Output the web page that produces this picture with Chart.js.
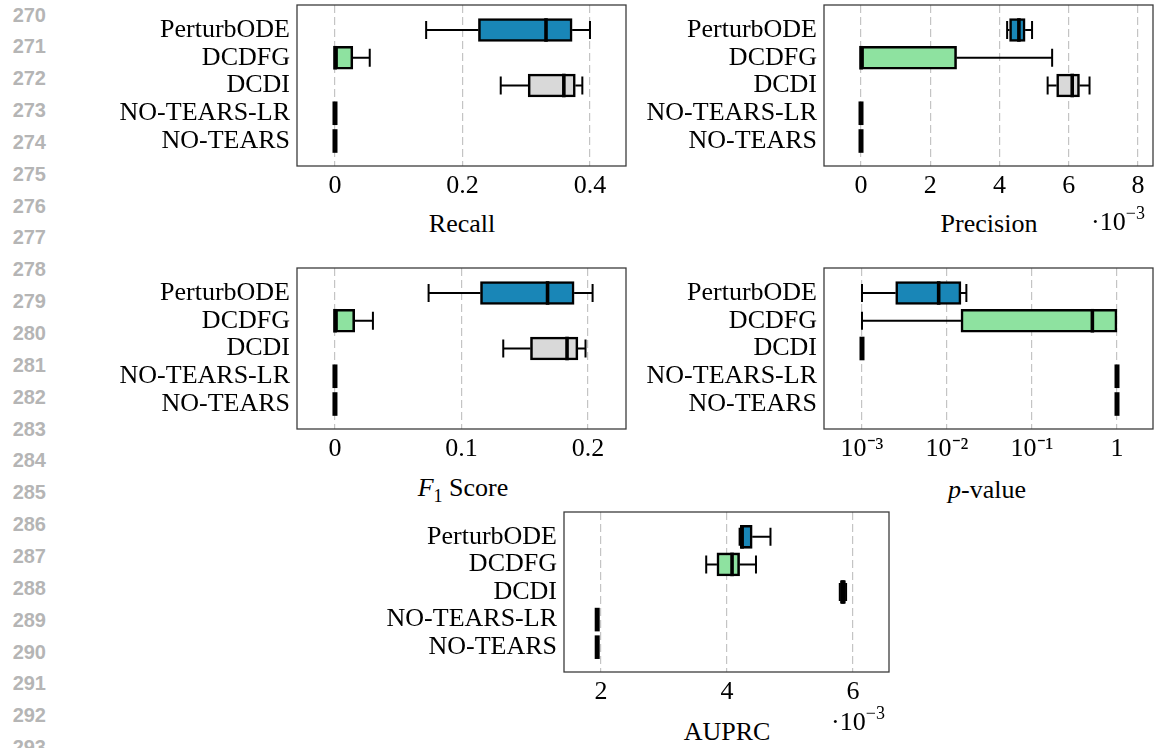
<!DOCTYPE html>
<html><head><meta charset="utf-8">
<script src="https://cdn.jsdelivr.net/npm/chart.js@4.4.1/dist/chart.umd.min.js"></script>
<style>
html,body{margin:0;padding:0;background:#fff}
body{width:1155px;height:748px;overflow:hidden;position:relative;font-family:'Liberation Serif','Times New Roman',serif}
canvas.c{position:absolute}
.t{position:absolute;font:26px 'Liberation Serif','Times New Roman',serif;color:#000;white-space:nowrap;transform:translate(-50%,-50%);line-height:1}
.ln{position:absolute;left:0;width:46px;text-align:right;font:bold 20px 'Liberation Sans',Arial,sans-serif;color:#b5b5b5;transform:translateY(-50%);line-height:1}
sup{font-size:18px;vertical-align:0;position:relative;top:-11px}
</style></head><body>
<canvas class="c" id="cRecall"></canvas>
<canvas class="c" id="cPrecision"></canvas>
<canvas class="c" id="cF1"></canvas>
<canvas class="c" id="cP"></canvas>
<canvas class="c" id="cAUPRC"></canvas>
<div id="labels"></div>
<script>
// ---------- DATA ----------
const methods = ['PerturbODE', 'DCDFG', 'DCDI', 'NO-TEARS-LR', 'NO-TEARS'];
// five-number summaries per method: [min, Q1, median, Q3, max]
const recallStats = [
  [0.143, 0.225, 0.331, 0.372, 0.400],
  [0, 0, 0, 0.028, 0.0545],
  [0.260, 0.303, 0.359, 0.377, 0.388],
  [0, 0, 0, 0, 0],
  [0, 0, 0, 0, 0]
];
// precision in units of 1e-3
const precisionStats = [
  [4.22, 4.29, 4.56, 4.74, 4.94],
  [0, 0, 0, 2.76, 5.52],
  [5.39, 5.65, 6.10, 6.31, 6.60],
  [0, 0, 0, 0, 0],
  [0, 0, 0, 0, 0]
];
const f1Stats = [
  [0.074, 0.115, 0.168, 0.189, 0.2036],
  [0, 0, 0, 0.0156, 0.030],
  [0.133, 0.1545, 0.1834, 0.192, 0.198],
  [0, 0, 0, 0, 0],
  [0, 0, 0, 0, 0]
];
const pvalueStats = [
  [0.001, 0.00249, 0.00798, 0.0146, 0.0169],
  [0.001, 0.0146, 0.513, 1, 1],
  [0.001, 0.001, 0.001, 0.001, 0.001],
  [1, 1, 1, 1, 1],
  [1, 1, 1, 1, 1]
];
// AUPRC in units of 1e-3
const auprcStats = [
  [4.20, 4.21, 4.24, 4.40, 4.69],
  [3.67, 3.84, 4.08, 4.20, 4.46],
  [5.79, 5.80, 5.84, 5.88, 5.89],
  [1.94, 1.94, 1.94, 1.94, 1.94],
  [1.94, 1.94, 1.94, 1.94, 1.94]
];
const recallTicks = [0, 0.2, 0.4];
const precisionTicks = [0, 2, 4, 6, 8];
const f1Ticks = [0, 0.1, 0.2];
const pvalueTicks = [0.001, 0.01, 0.1, 1];
const pvalueTickLabels = ['10⁻³', '10⁻²', '10⁻¹', '1'];
const auprcTicks = [2, 4, 6];
const lineNumbers = [270,271,272,273,274,275,276,277,278,279,280,281,282,283,284,285,286,287,288,289,290,291,292,293];

// ---------- STYLE ----------
const boxColors = ['#1986b7', '#8ee2a0', '#d9d9d9', '#d9d9d9', '#d9d9d9'];
const FONT = "'Liberation Serif','Times New Roman',serif";
const YW = 200, XH = 40;

const boxParts = {
  id: 'boxparts',
  afterDatasetsDraw(chart) {
    const {ctx} = chart;
    const x = chart.scales.x, y = chart.scales.y;
    const stats = chart.options.plugins.boxparts.stats;
    ctx.save();
    ctx.strokeStyle = '#000';
    ctx.lineCap = 'butt';
    stats.forEach((s, i) => {
      const yc = y.getPixelForValue(i);
      const [lo, q1, md, q3, hi] = s.map(v => x.getPixelForValue(v));
      ctx.lineWidth = 2;
      ctx.beginPath();
      if (q1 - lo > 0.5) { ctx.moveTo(lo, yc); ctx.lineTo(q1, yc); ctx.moveTo(lo, yc - 9); ctx.lineTo(lo, yc + 9); }
      if (hi - q3 > 0.5) { ctx.moveTo(q3, yc); ctx.lineTo(hi, yc); ctx.moveTo(hi, yc - 9); ctx.lineTo(hi, yc + 9); }
      ctx.stroke();
      ctx.lineWidth = (q3 - q1 < 1.5) ? 5 : 3.6;
      ctx.beginPath();
      ctx.moveTo(md, yc - 11.8); ctx.lineTo(md, yc + 11.8);
      ctx.stroke();
    });
    ctx.restore();
  },
  afterDraw(chart) {
    const {ctx, chartArea: a} = chart;
    ctx.save();
    ctx.strokeStyle = '#3c3c3c';
    ctx.lineWidth = 1.3;
    ctx.strokeRect(a.left, a.top, a.right - a.left, a.bottom - a.top);
    ctx.restore();
  }
};

function boxChart(id, left, top, plotW, plotH, stats, xOpts, tickVals, tickFmt) {
  const cv = document.getElementById(id);
  const padR = 4;
  cv.width = YW + plotW + padR;
  cv.height = 5 + plotH + XH;
  cv.style.left = (left - YW) + 'px';
  cv.style.top = (top - 5) + 'px';
  return new Chart(cv, {
    type: 'bar',
    data: {
      labels: methods,
      datasets: [{
        data: stats.map((s, i) => ({y: i, x: [s[1], s[3]]})),
        backgroundColor: boxColors,
        borderColor: '#000',
        borderWidth: 2.6,
        borderSkipped: false,
        barThickness: 23
      }]
    },
    options: {
      indexAxis: 'y',
      responsive: false,
      animation: false,
      devicePixelRatio: 1,
      layout: {padding: {left: 0, right: padR, top: 5, bottom: 0}},
      plugins: {legend: {display: false}, tooltip: {enabled: false}, boxparts: {stats}},
      scales: {
        y: {
          type: 'linear', min: -0.9, max: 4.9, reverse: true, offset: false,
          afterBuildTicks: s => { s.ticks = methods.map((m, i) => ({value: i})); },
          afterFit: s => { s.width = YW; s.paddingTop = 0; s.paddingBottom = 0; },
          grid: {display: false, drawTicks: false, offset: false},
          border: {display: false},
          ticks: {callback: v => methods[v], color: '#000', padding: 7, font: {family: FONT, size: 26, lineHeight: 0.05}, autoSkip: false}
        },
        x: Object.assign({
          afterBuildTicks: s => { s.ticks = tickVals.map(v => ({value: v})); },
          afterFit: s => { s.height = XH; s.paddingLeft = 0; s.paddingRight = 0; },
          grid: {color: '#c4c4c4', lineWidth: 1.2, drawTicks: false},
          border: {display: false, dash: [8, 4]},
          ticks: {callback: tickFmt, color: '#000', padding: 5, font: {family: FONT, size: 26}, maxRotation: 0, autoSkip: false}
        }, xOpts)
      }
    },
    plugins: [boxParts]
  });
}

const fmtNum = v => String(v);
boxChart('cRecall', 297, 5, 329, 161, recallStats, {type: 'linear', min: -0.0596, max: 0.4565}, recallTicks, fmtNum);
boxChart('cPrecision', 824, 5, 329, 161, precisionStats, {type: 'linear', min: -1.069, max: 8.433}, precisionTicks, fmtNum);
boxChart('cF1', 297, 268, 329, 161, f1Stats, {type: 'linear', min: -0.030, max: 0.230}, f1Ticks, fmtNum);
boxChart('cP', 824, 268, 329, 161, pvalueStats, {type: 'logarithmic', min: Math.pow(10, -3.447), max: Math.pow(10, 0.4235)}, pvalueTicks,
  v => pvalueTickLabels[pvalueTicks.findIndex(t => Math.abs(Math.log10(t) - Math.log10(v)) < 1e-6)]);
boxChart('cAUPRC', 564, 512, 325, 160, auprcStats, {type: 'linear', min: 1.413, max: 6.571}, auprcTicks, fmtNum);

// ---------- TEXT ----------
const L = document.getElementById('labels');
function addText(html, x, y, cls) {
  const d = document.createElement('div');
  d.className = cls || 't';
  d.innerHTML = html;
  d.style.left = x + 'px';
  d.style.top = y + 'px';
  L.appendChild(d);
}
addText('Recall', 462, 224);
addText('Precision', 989, 224);
addText('·10<sup>−3</sup>', 1118, 222);
addText('<i>F</i><sub style="font-size:18px">1</sub> Score', 463, 490);
addText('<i>p</i>-value', 987, 490);
addText('AUPRC', 727, 732);
addText('·10<sup>−3</sup>', 858, 722);
lineNumbers.forEach((n, i) => {
  const d = document.createElement('div');
  d.className = 'ln';
  d.textContent = n;
  d.style.top = (14.5 + i * 31.85) + 'px';
  L.appendChild(d);
});
</script>
</body></html>
